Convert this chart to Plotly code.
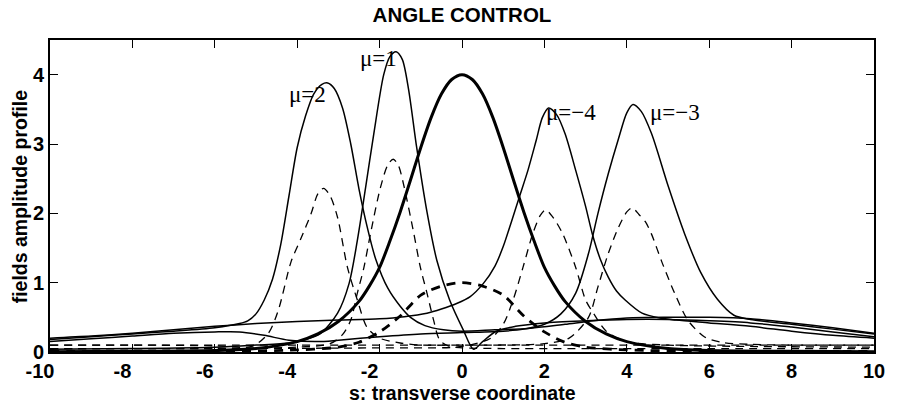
import plotly.graph_objects as go

# ---- data (s: transverse coordinate, field amplitude) ----
# solid curves (first field)
s_mu2 = [-10,-9,-8,-7,-6,-5.4,-5.2,-5.0,-4.8,-4.6,-4.4,-4.2,-4.0,-3.8,-3.6,-3.4,-3.26,-3.1,-2.9,-2.7,-2.5,-2.3,-2.1,-1.8,-1.5,-1.25,-0.9,-0.45,0,0.8,1.6,2.5,3.2,4,5,6,7,8,9,10]
a_mu2 = [0.18,0.22,0.26,0.3,0.35,0.41,0.45,0.55,0.75,1.05,1.55,2.25,2.95,3.4,3.72,3.86,3.88,3.8,3.52,3.0,2.35,1.8,1.35,0.92,0.66,0.5,0.38,0.32,0.3,0.32,0.34,0.4,0.45,0.49,0.5,0.5,0.48,0.42,0.35,0.27]

s_mu1 = [-10,-8,-6,-5,-4.2,-3.8,-3.43,-3.02,-2.74,-2.54,-2.34,-2.14,-1.9,-1.75,-1.6,-1.45,-1.3,-1.1,-0.85,-0.61,-0.3,0.03,0.28,0.5,0.83,1.3,2,3,4,5,6,7,8,9,10]
a_mu1 = [0.04,0.05,0.07,0.1,0.13,0.18,0.27,0.56,0.99,1.61,2.37,3.15,4.0,4.26,4.33,4.22,3.8,2.95,2.02,1.32,0.75,0.32,0.04,0.15,0.3,0.37,0.42,0.45,0.47,0.47,0.45,0.42,0.36,0.29,0.22]

s_mu0 = [-10,-8,-6,-5,-4,-3.5,-3,-2.5,-2.25,-2,-1.75,-1.5,-1.25,-1,-0.75,-0.5,-0.25,0,0.25,0.5,0.75,1,1.25,1.5,1.75,2,2.25,2.5,3,3.5,4,5,6,8,10]
a_mu0 = [0.005,0.01,0.02,0.05,0.15,0.26,0.44,0.73,0.95,1.22,1.6,2.02,2.48,2.95,3.38,3.72,3.93,4.0,3.93,3.72,3.38,2.95,2.48,2.02,1.6,1.22,0.95,0.73,0.44,0.26,0.15,0.05,0.02,0.01,0.005]

s_mum4 = [-10,-9,-8,-7,-6,-5,-4,-3,-2,-1.4,-0.85,-0.5,-0.13,0.2,0.52,0.8,1.0,1.2,1.4,1.6,1.8,1.95,2.1,2.3,2.5,2.76,3.0,3.16,3.35,3.55,3.75,3.96,4.37,4.8,5.2,6,7,8,9,10]
a_mum4 = [0.2,0.23,0.27,0.32,0.37,0.41,0.44,0.46,0.48,0.51,0.56,0.62,0.7,0.8,0.99,1.24,1.52,1.88,2.25,2.62,3.05,3.38,3.52,3.42,3.15,2.62,2.1,1.71,1.35,1.08,0.88,0.75,0.56,0.49,0.46,0.42,0.37,0.3,0.24,0.2]

s_mum3 = [-10,-9,-8,-7,-6,-5.4,-4.8,-4.2,-3.5,-3,-2,-1,0,1,1.5,2,2.4,2.76,3.07,3.3,3.55,3.8,4.0,4.15,4.35,4.6,5.0,5.4,5.8,6.2,6.6,7,8,9,10]
a_mum3 = [0.15,0.19,0.23,0.27,0.29,0.29,0.24,0.17,0.15,0.17,0.22,0.26,0.28,0.3,0.33,0.4,0.55,0.85,1.42,2.0,2.57,3.08,3.45,3.57,3.47,3.15,2.4,1.71,1.14,0.76,0.53,0.47,0.4,0.33,0.26]

# dashed curves (second field)
s_d2 = [-10,-8,-6,-5.1,-4.7,-4.46,-4.15,-3.9,-3.66,-3.5,-3.36,-3.2,-3.02,-2.78,-2.54,-2.3,-2.0,-1.5,-1,0,2,4,6,8,10]
b_d2 = [0.1,0.1,0.09,0.08,0.27,0.6,1.3,1.65,2.0,2.28,2.36,2.25,1.94,1.22,0.75,0.35,0.2,0.13,0.1,0.1,0.1,0.1,0.1,0.1,0.1]

s_d1 = [-10,-6,-4,-3.2,-2.9,-2.7,-2.54,-2.38,-2.22,-1.98,-1.8,-1.67,-1.55,-1.4,-1.17,-1.01,-0.85,-0.69,-0.54,-0.3,0,1,3,6,10]
b_d1 = [0.05,0.05,0.07,0.12,0.25,0.46,0.85,1.22,1.71,2.37,2.7,2.78,2.7,2.37,1.71,1.22,0.85,0.46,0.17,0.08,0.06,0.05,0.05,0.05,0.05]

s_d0 = [-10,-6,-4,-3,-2.5,-2,-1.5,-1,-0.5,0,0.5,1,1.5,2,2.5,3,4,6,10]
b_d0 = [0.01,0.01,0.03,0.07,0.14,0.29,0.52,0.82,0.95,1.0,0.95,0.82,0.52,0.29,0.14,0.07,0.03,0.01,0.01]

s_dm4 = [-10,-6,-2,0,0.7,1.0,1.24,1.48,1.72,1.9,2.03,2.2,2.44,2.76,3.0,3.2,3.5,4,5,7,10]
b_dm4 = [0.05,0.05,0.06,0.08,0.2,0.4,0.75,1.22,1.71,1.97,2.05,1.95,1.71,1.22,0.75,0.55,0.3,0.15,0.1,0.08,0.07]

s_dm3 = [-10,-6,-2,0,2,2.6,3.07,3.3,3.55,3.8,4.0,4.13,4.3,4.45,4.6,4.85,5.16,5.48,5.88,6.3,7,8,10]
b_dm3 = [0.1,0.1,0.1,0.1,0.12,0.2,0.5,0.94,1.42,1.8,2.02,2.08,1.98,1.88,1.7,1.3,0.85,0.46,0.22,0.14,0.11,0.1,0.1]

labels = ["μ=2", "μ=1", "μ=−4", "μ=−3"]
label_s = [-3.74, -2.03, 2.64, 5.16]
label_a = [3.72, 4.23, 3.46, 3.46]

x_ticks = [-10, -8, -6, -4, -2, 0, 2, 4, 6, 8, 10]
y_ticks = [0, 1, 2, 3, 4]

SANS = "Liberation Sans, Arial, sans-serif"
SERIF = "Liberation Serif, Times New Roman, serif"

fig = go.Figure()

def add(xs, ys, width=1.5, dash="solid"):
    fig.add_trace(go.Scatter(x=xs, y=ys, mode="lines",
                             line=dict(color="black", width=width, dash=dash,
                                       shape="spline", smoothing=0.8),
                             showlegend=False, hoverinfo="skip"))

DASH = "8px,6px"
add(s_d2, b_d2, 1.3, DASH)
add(s_d1, b_d1, 1.3, DASH)
add(s_dm4, b_dm4, 1.3, DASH)
add(s_dm3, b_dm3, 1.3, DASH)
add(s_d0, b_d0, 2.8, "9px,7px")
add(s_mu2, a_mu2)
add(s_mu1, a_mu1)
add(s_mum4, a_mum4)
add(s_mum3, a_mum3)
add(s_mu0, a_mu0, 3.0)

for t, xs, ys in zip(labels, label_s, label_a):
    fig.add_annotation(x=xs, y=ys, text=t, showarrow=False,
                       font=dict(family=SERIF, size=23, color="black"))

# axis titles
fig.add_annotation(x=0.5, y=-0.131, xref="paper", yref="paper", xanchor="center", yanchor="middle",
                   text="<b>s: transverse coordinate</b>", showarrow=False,
                   font=dict(family=SANS, size=19.5, color="black"))
fig.add_annotation(x=-0.036, y=0.5, xref="paper", yref="paper", xanchor="center", yanchor="middle",
                   text="<b>fields amplitude profile</b>", showarrow=False, textangle=-90,
                   font=dict(family=SANS, size=19.5, color="black"))

axis_common = dict(showline=True, linecolor="black", linewidth=1.6, mirror="ticks",
                   ticks="inside", ticklen=8, tickwidth=1.3, tickcolor="black",
                   showgrid=False, zeroline=False,
                   tickfont=dict(family=SANS, size=20, color="black", weight="bold"))

# negative labels in the reference hang to the left of their tick
x_text = [(str(v) + "\u2003") if v < 0 else str(v) for v in x_ticks]

fig.update_xaxes(range=[-10, 10], tickvals=x_ticks, ticktext=x_text, **axis_common)
fig.update_yaxes(range=[0, 4.5], tickvals=y_ticks, ticktext=[str(v) for v in y_ticks], **axis_common)

fig.update_layout(
    width=897, height=410,
    margin=dict(l=50, r=16, t=40, b=58),
    paper_bgcolor="white", plot_bgcolor="white",
    title=dict(text="<b>ANGLE CONTROL</b>", x=0.5, xanchor="center", xref="paper",
               y=0.965, yanchor="middle", yref="container",
               font=dict(family=SANS, size=20.5, color="black")),
)

fig.write_html("out.html")
